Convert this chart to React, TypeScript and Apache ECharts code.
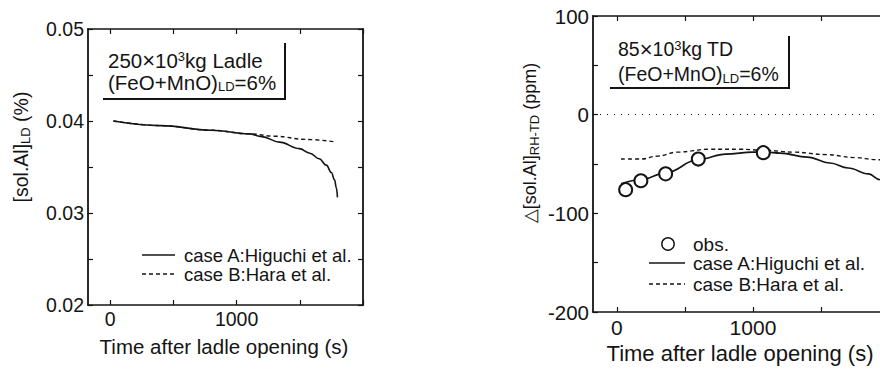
import React, { useEffect, useRef } from "react";
import * as echarts from "echarts";

// ---------- data ----------
// Left panel: [sol.Al]LD (%) vs time (s)
const leftTimeA = [26, 400, 800, 1100, 1200, 1339, 1496, 1580, 1654, 1710, 1750, 1775, 1790, 1798];
const leftCaseA = [0.04, 0.0395, 0.039, 0.0386, 0.0383, 0.0377, 0.037, 0.0365, 0.0359, 0.0352, 0.0344, 0.0336, 0.0327, 0.0317];
const leftTimeB = [26, 400, 800, 1100, 1300, 1548, 1772];
const leftCaseB = [0.04, 0.0395, 0.039, 0.0386, 0.03835, 0.038, 0.03775];

// Right panel: Δ[sol.Al]RH-TD (ppm) vs time (s)
const obsTime = [64, 176, 358, 598, 1076];
const obsValue = [-76, -67, -60, -45, -38.5];
const rightTimeA = [30, 176, 358, 598, 800, 1000, 1100, 1198, 1400, 1566, 1700, 1850, 1934, 2000];
const rightCaseA = [-70, -66, -59, -45.5, -40, -38, -38, -39, -43, -49, -54, -60, -66, -71];
const rightTimeB = [30, 176, 300, 439, 684, 900, 1076, 1300, 1542, 1750, 1909, 2000];
const rightCaseB = [-45, -45, -42, -38, -35, -35, -36, -38, -40.5, -43.5, -45.6, -47];

// ticks
const xTicks = [0, 500, 1000, 1500, 2000];
const xLabels = [0, 1000];
const leftYTicks = [0.02, 0.025, 0.03, 0.035, 0.04, 0.045, 0.05];
const leftYLabels = [0.02, 0.03, 0.04, 0.05];
const rightYTicks = [-200, -150, -100, -50, 0, 50, 100];
const rightYLabels = [-200, -100, 0, 100];

const FONT = '"Liberation Sans", Arial, Helvetica, sans-serif';
const INK = "#141414";

const zip = (a: number[], b: number[]) => a.map((v, i) => [v, b[i]]);

const RICH = {
  sub: { fontSize: 13, fontFamily: FONT, fill: INK, padding: [8, 0, 0, 0] },
  sup: { fontSize: 13, fontFamily: FONT, fill: INK, padding: [0, 0, 8, 0] },
  x: { fontSize: 22, fontFamily: FONT, fill: INK },
};

function text(x: number, y: number, t: string, size: number, extra: any = {}, rotation = 0) {
  return {
    type: "text",
    x,
    y,
    rotation,
    silent: true,
    style: {
      text: t,
      fill: INK,
      fontFamily: FONT,
      fontSize: size,
      align: "left",
      verticalAlign: "middle",
      rich: RICH,
      ...extra,
    },
  };
}

function seg(x1: number, y1: number, x2: number, y2: number, dash?: number[], w = 1.5) {
  return {
    type: "line",
    silent: true,
    shape: { x1, y1, x2, y2 },
    style: { stroke: INK, lineWidth: w, lineDash: dash || null },
  };
}

function xAxisPair(gridIndex: number, min: number, max: number, size: number, margin: number) {
  const common = {
    gridIndex,
    type: "value",
    min,
    max,
    splitLine: { show: false },
    axisLine: { show: true, onZero: false, lineStyle: { color: INK, width: 1.6 } },
    axisTick: { show: true, inside: true, length: 5, customValues: xTicks, lineStyle: { color: INK, width: 1.2 } },
  };
  return [
    {
      ...common,
      position: "bottom",
      axisLabel: {
        show: true,
        customValues: xLabels,
        formatter: (v: number) => String(Math.round(v)),
        color: INK,
        fontFamily: FONT,
        fontSize: size,
        margin,
      },
    },
    { ...common, position: "top", axisLabel: { show: false } },
  ];
}

function yAxisPair(
  gridIndex: number,
  min: number,
  max: number,
  ticks: number[],
  labels: number[],
  fmt: (v: number) => string,
  size: number
) {
  const common = {
    gridIndex,
    type: "value",
    min,
    max,
    splitLine: { show: false },
    axisLine: { show: true, onZero: false, lineStyle: { color: INK, width: 1.8 } },
    axisTick: { show: true, inside: true, length: 5, customValues: ticks, lineStyle: { color: INK, width: 1.2 } },
  };
  return [
    {
      ...common,
      position: "left",
      axisLabel: {
        show: true,
        customValues: labels,
        formatter: fmt,
        color: INK,
        fontFamily: FONT,
        fontSize: size,
        margin: 4,
      },
    },
    { ...common, position: "right", axisLabel: { show: false } },
  ];
}

export default function App() {
  const ref = useRef<HTMLDivElement>(null);

  useEffect(() => {
    if (!ref.current) return;
    const chart = echarts.init(ref.current, null, { renderer: "svg" });

    const lineBase = {
      type: "line",
      showSymbol: false,
      symbol: "none",
      smooth: 0.4,
      smoothMonotone: "x",
      clip: true,
      silent: true,
    };

    const option = {
      animation: false,
      backgroundColor: "#ffffff",
      grid: [
        { left: 88, top: 29, width: 275, height: 276 },
        { left: 593, top: 16, width: 296, height: 296 },
      ],
      xAxis: [...xAxisPair(0, -175, 2000, 19.5, 4), ...xAxisPair(1, -176, 2000, 21, 5)],
      yAxis: [
        ...yAxisPair(0, 0.02, 0.05, leftYTicks, leftYLabels, (v: number) => v.toFixed(2), 19.5),
        ...yAxisPair(1, -200, 100, rightYTicks, rightYLabels, (v: number) => String(Math.round(v)), 20.5),
      ],
      series: [
        {
          ...lineBase,
          name: "case A:Higuchi et al.",
          xAxisIndex: 0,
          yAxisIndex: 0,
          data: zip(leftTimeA, leftCaseA),
          lineStyle: { color: INK, width: 1.6, type: "solid" },
        },
        {
          ...lineBase,
          name: "case B:Hara et al.",
          xAxisIndex: 0,
          yAxisIndex: 0,
          data: zip(leftTimeB, leftCaseB),
          lineStyle: { color: INK, width: 1.4, type: [4, 3] },
        },
        {
          ...lineBase,
          name: "case B:Hara et al. (TD)",
          xAxisIndex: 2,
          yAxisIndex: 2,
          data: zip(rightTimeB, rightCaseB),
          lineStyle: { color: INK, width: 1.4, type: [4, 3] },
          markLine: {
            silent: true,
            symbol: "none",
            label: { show: false },
            lineStyle: { color: INK, width: 1, type: [1, 6] },
            data: [{ yAxis: 0 }],
          },
        },
        {
          ...lineBase,
          name: "case A:Higuchi et al. (TD)",
          xAxisIndex: 2,
          yAxisIndex: 2,
          data: zip(rightTimeA, rightCaseA),
          lineStyle: { color: INK, width: 1.6, type: "solid" },
        },
        {
          type: "scatter",
          name: "obs.",
          xAxisIndex: 2,
          yAxisIndex: 2,
          symbol: "emptyCircle",
          symbolSize: 13,
          silent: true,
          z: 5,
          itemStyle: { color: INK, opacity: 1, borderColor: INK, borderWidth: 1.4 },
          data: zip(obsTime, obsValue),
        },
      ],
      graphic: [
        // left annotation
        text(108, 60, "250{x|×}10{sup|3}kg Ladle", 20.5),
        text(108, 82, "(FeO+MnO){sub|LD}=6%", 20.5),
        {
          type: "polyline",
          silent: true,
          shape: { points: [[103, 99], [285, 99], [285, 43]] },
          style: { stroke: INK, lineWidth: 2, fill: null },
        },
        // left legend
        seg(142, 255, 175, 255, undefined, 1.6),
        text(184, 255, "case A:Higuchi et al.", 18.5),
        seg(142, 274, 175, 274, [4, 3], 1.3),
        text(184, 274, "case B:Hara et al.", 18.5),
        // left axis titles
        text(21, 147, "[sol.Al]{sub|LD} (%)", 19.5, { align: "center" }, Math.PI / 2),
        text(224, 346, "Time after ladle opening (s)", 20.5, { align: "center" }),
        // right annotation
        text(618, 49, "85{x|×}10{sup|3}kg TD", 19.5),
        text(618, 74, "(FeO+MnO){sub|LD}=6%", 19.5),
        {
          type: "polyline",
          silent: true,
          shape: { points: [[610, 88], [789, 88], [789, 36]] },
          style: { stroke: INK, lineWidth: 2, fill: null },
        },
        // right legend
        {
          type: "circle",
          silent: true,
          shape: { cx: 668, cy: 244, r: 6.2 },
          style: { fill: "#fff", stroke: INK, lineWidth: 1.4 },
        },
        text(693, 244, "obs.", 19),
        seg(649, 263, 685, 263, undefined, 1.6),
        text(693, 263, "case A:Higuchi et al.", 19),
        seg(649, 284, 685, 284, [4, 3], 1.3),
        text(693, 284, "case B:Hara et al.", 19),
        // right axis titles
        text(530, 143, "△[sol.Al]{sub|RH-TD} (ppm)", 18, { align: "center" }, Math.PI / 2),
        text(740, 353, "Time after ladle opening (s)", 22, { align: "center" }),
      ],
    };

    chart.setOption(option as any);
    return () => chart.dispose();
  }, []);

  return (
    <div
      style={{
        position: "fixed",
        left: 0,
        top: 0,
        width: 880,
        height: 373,
        overflow: "hidden",
        background: "#fff",
      }}
    >
      <div ref={ref} style={{ width: 900, height: 373 }} />
    </div>
  );
}
